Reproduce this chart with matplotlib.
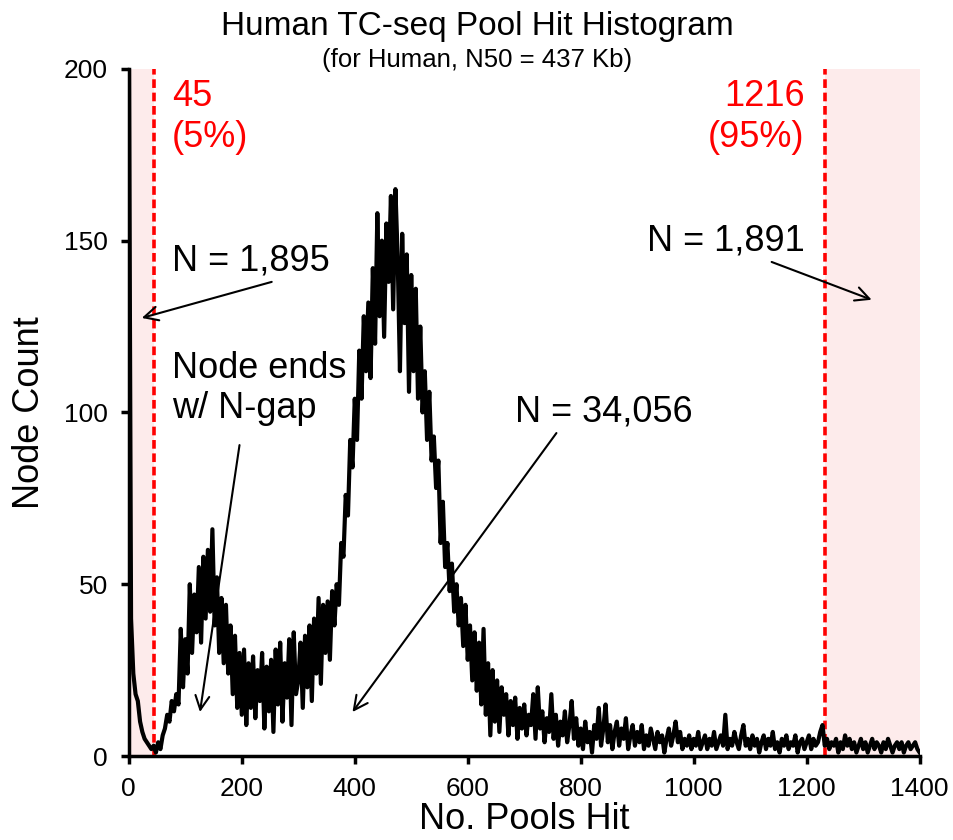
import matplotlib.pyplot as plt
import numpy as np

plt.rcParams['font.family'] = ['Liberation Sans', 'DejaVu Sans']

# node counts per number of pools hit, read every 4 pools (0, 4, ..., 1400)
counts = [
    215, 40, 24, 18, 16, 10, 7, 5, 4, 3, 2, 3, 1, 4, 2, 6, 8, 12, 10, 16, 13, 18, 15, 37, 20,
    34, 24, 50, 30, 47, 36, 55, 33, 58, 40, 60, 42, 66, 38, 52, 30, 46, 27, 44, 24, 38, 18, 35, 14, 30,
    12, 31, 9, 27, 14, 29, 11, 25, 16, 30, 8, 26, 13, 28, 7, 31, 15, 33, 10, 27, 17, 34, 9, 36, 18,
    22, 33, 14, 35, 20, 38, 16, 40, 24, 46, 21, 44, 30, 45, 28, 48, 38, 50, 44, 62, 58, 76, 70, 92, 84,
    104, 92, 118, 104, 128, 112, 132, 110, 142, 120, 158, 128, 150, 122, 155, 138, 163, 130, 165, 145, 112, 152, 126, 146, 106,
    140, 112, 136, 104, 125, 100, 112, 92, 106, 86, 93, 78, 86, 62, 74, 55, 62, 48, 56, 42, 50, 38, 46, 32, 44,
    28, 38, 22, 36, 19, 33, 15, 37, 12, 27, 6, 25, 10, 22, 7, 20, 12, 18, 6, 16, 9, 17, 5, 14, 8,
    15, 6, 12, 9, 18, 5, 20, 8, 13, 4, 11, 7, 18, 5, 12, 3, 10, 6, 13, 4, 9, 16, 5, 11, 3,
    8, 2, 10, 4, 7, 1, 9, 5, 14, 3, 8, 15, 4, 9, 2, 7, 10, 3, 8, 5, 11, 2, 6, 9, 3,
    7, 4, 9, 2, 6, 3, 8, 5, 2, 7, 4, 6, 1, 5, 8, 3, 6, 10, 4, 7, 2, 5, 3, 6, 2,
    5, 3, 7, 2, 4, 6, 2, 5, 3, 7, 2, 4, 6, 3, 12, 2, 5, 3, 7, 4, 2, 6, 9, 3, 5,
    2, 6, 3, 5, 1, 4, 6, 2, 5, 3, 7, 2, 4, 1, 5, 3, 6, 2, 4, 3, 6, 1, 4, 5, 2,
    4, 6, 2, 5, 3, 4, 7, 9, 3, 5, 2, 4, 3, 5, 1, 4, 2, 6, 3, 5, 2, 4, 1, 3, 5,
    2, 4, 1, 3, 5, 2, 4, 3, 1, 4, 2, 5, 3, 1, 3, 4, 2, 4, 1, 3, 4, 2, 3, 4, 2, 1,
]
pools = np.arange(0, 1401, 4)

low_cut = 45
high_cut = 1232
x_ticks = [0, 200, 400, 600, 800, 1000, 1200, 1400]
y_ticks = [0, 50, 100, 150, 200]

fig = plt.figure(figsize=(9.54, 8.4), dpi=100)
ax = fig.add_axes([0.135, 0.1, 0.829, 0.818])

pink = '#fdebeb'
ax.axvspan(0, low_cut, color=pink, lw=0, zorder=0)
ax.axvspan(high_cut, 1400, color=pink, lw=0, zorder=0)
ax.axvline(low_cut, color='red', lw=2.6, dashes=(2.4, 1.3), zorder=1)
ax.axvline(high_cut, color='red', lw=2.6, dashes=(2.4, 1.3), zorder=1)

ax.plot(pools, counts, color='black', lw=3, zorder=2)

ax.set_xlim(0, 1400)
ax.set_ylim(0, 200)
ax.set_xticks(x_ticks)
ax.set_yticks(y_ticks)
ax.tick_params(labelsize=19, width=2.5, length=6, direction='out', pad=9)
for s in ['top', 'right']:
    ax.spines[s].set_visible(False)
for s in ['left', 'bottom']:
    ax.spines[s].set_linewidth(2.5)
ax.set_xlabel('No. Pools Hit', fontsize=26, labelpad=1)
ax.set_ylabel('Node Count', fontsize=26, labelpad=12)

fig.text(0.5, 0.969, 'Human TC-seq Pool Hit Histogram', ha='center', va='center', fontsize=24)
fig.text(0.5, 0.928, '(for Human, N50 = 437 Kb)', ha='center', va='center', fontsize=18.5)

ax.text(76, 197, '45\n(5%)', color='red', fontsize=26, va='top', ha='left')
ax.text(1196, 197, '1216\n(95%)', color='red', fontsize=26, va='top', ha='right',
        multialignment='right')

ap = dict(arrowstyle='->,head_length=1.0,head_width=0.5', color='black', lw=1.5,
          shrinkA=0, shrinkB=0)
ax.text(76, 144, 'N = 1,895', fontsize=26, va='center', ha='left')
ax.annotate('', xy=(23, 127.5), xytext=(253, 138), arrowprops=ap)
ax.text(1196, 150, 'N = 1,891', fontsize=26, va='center', ha='right')
ax.annotate('', xy=(1315, 132.8), xytext=(1138, 143.8), arrowprops=ap)
ax.text(76, 118, 'Node ends\nw/ N-gap', fontsize=26, va='top', ha='left')
ax.annotate('', xy=(126, 12.8), xytext=(196, 90.5), arrowprops=ap)
ax.text(683, 100, 'N = 34,056', fontsize=26, va='center', ha='left')
ax.annotate('', xy=(396, 12.8), xytext=(757, 94), arrowprops=ap)

fig.savefig('out.png', dpi=100)
